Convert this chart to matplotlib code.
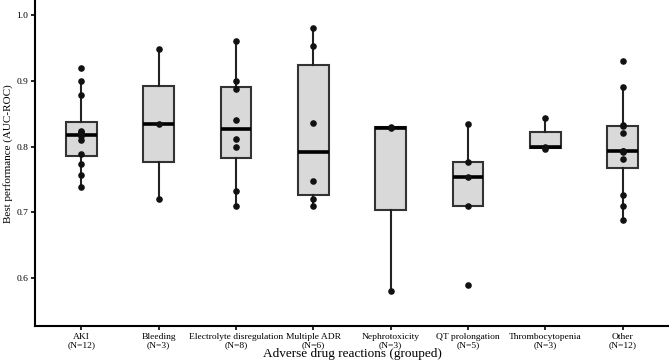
import matplotlib
matplotlib.use('Agg')
import matplotlib.pyplot as plt

plt.rcParams['font.family'] = ['Liberation Serif', 'DejaVu Serif']

# Categories and AUC-ROC values
categories = ['AKI', 'Bleeding', 'Electrolyte disregulation', 'Multiple ADR',
              'Nephrotoxicity', 'QT prolongation', 'Thrombocytopenia', 'Other']
aki = [0.739, 0.756, 0.774, 0.789, 0.810, 0.816, 0.820, 0.822, 0.823, 0.879, 0.900, 0.920]
bleeding = [0.720, 0.834, 0.949]
electrolyte = [0.710, 0.732, 0.800, 0.811, 0.841, 0.887, 0.900, 0.960]
multiple_adr = [0.710, 0.720, 0.747, 0.836, 0.953, 0.980]
nephrotoxicity = [0.580, 0.828, 0.830]
qt_prolongation = [0.590, 0.710, 0.754, 0.776, 0.834]
thrombocytopenia = [0.796, 0.799, 0.844]
other = [0.689, 0.710, 0.727, 0.781, 0.792, 0.793, 0.794, 0.820, 0.831, 0.833, 0.890, 0.930]

groups = [aki, bleeding, electrolyte, multiple_adr, nephrotoxicity,
          qt_prolongation, thrombocytopenia, other]
labels = [f'{c}\n(N={len(g)})' for c, g in zip(categories, groups)]
positions = list(range(1, len(groups) + 1))

fig = plt.figure(figsize=(6.69, 3.63), dpi=100)
ax = fig.add_axes([0.0523, 0.102, 0.9477, 0.898])

ax.boxplot(groups, positions=positions, widths=0.4, whis=1.5, showfliers=False,
           patch_artist=True,
           boxprops=dict(facecolor='#d9d9d9', edgecolor='#333333', linewidth=1.5),
           whiskerprops=dict(color='#222222', linewidth=1.5),
           capprops=dict(linewidth=0),
           medianprops=dict(color='black', linewidth=2.6))

for p, g in zip(positions, groups):
    ax.scatter([p] * len(g), g, s=14, color='#111111', zorder=3)

ax.set_xlim(0.4, 8.6)
ax.set_ylim(0.527, 1.023)
ax.set_yticks([0.6, 0.7, 0.8, 0.9, 1.0])
ax.set_yticklabels(['0.6', '0.7', '0.8', '0.9', '1.0'])
ax.set_xticks(positions)
ax.set_xticklabels(labels, fontsize=6.8, linespacing=1.0)
ax.tick_params(axis='y', labelsize=6.8, length=3, width=1.2, pad=2)
ax.tick_params(axis='x', length=3, width=1.2, pad=2)

for s in ['top', 'right']:
    ax.spines[s].set_visible(False)
for s in ['left', 'bottom']:
    ax.spines[s].set_linewidth(1.5)
    ax.spines[s].set_color('black')

ax.set_ylabel('Best performance (AUC-ROC)', fontsize=8)
ax.yaxis.set_label_coords(-0.034, 0.53)
ax.set_xlabel('Adverse drug reactions (grouped)', fontsize=9.5, labelpad=-1)

fig.savefig('out.png', dpi=100)
